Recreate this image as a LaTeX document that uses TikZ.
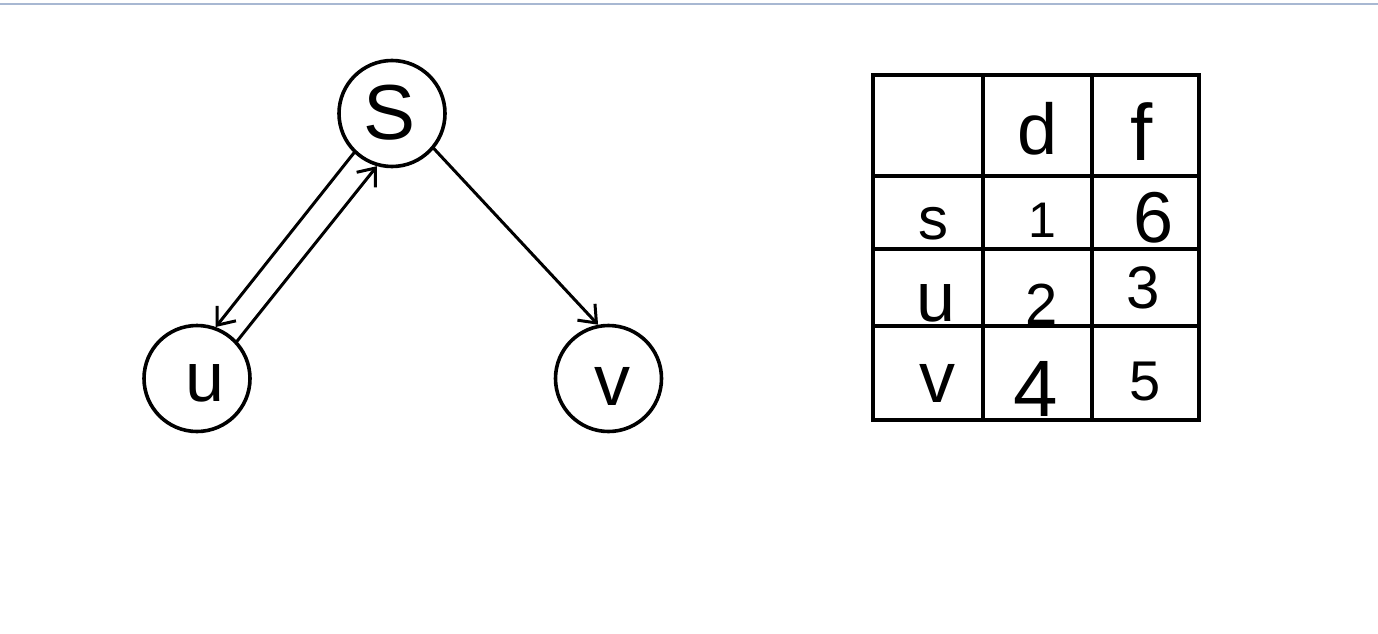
\documentclass[tikz,border=0pt]{standalone}
\usepackage{fontspec}
\setmainfont{Liberation Sans}
\usetikzlibrary{arrows.meta}
\definecolor{topline}{RGB}{168,184,210}
\begin{document}
\begin{tikzpicture}[x=1pt,y=-1pt,
  vertex/.style={circle, draw, line width=3.6pt, minimum size=106pt, inner sep=0pt},
  hw/.style={font=\fontsize{#1}{#1}\selectfont, inner sep=0pt},
  edge/.style={line width=3pt, line cap=round,
    -{Straight Barb[length=15pt,width=24pt,line width=3pt]}},
  grid/.style={line width=3.6pt}]
\useasboundingbox (0,0) rectangle (1378,634);
\fill[white] (0,0) rectangle (1378,634);
% thin rule along the top edge
\draw[line width=2.6pt, topline] (0,4) coordinate (rl) -- (1378,4) coordinate (rr);

% graph vertices
\node[vertex] (s) at (392,113.5) {};
\node[vertex] (u) at (197,378.5) {};
\node[vertex] (v) at (608.5,378.5) {};
\node[hw=78] (sl) at (390,113) {S};
\node[hw=70] (ul) at (205,383.5) {u};
\node[hw=72] (vl) at (612,386) {v};

% edges
\draw[edge] (s.226.7) -- (u.70.4);
\draw[edge] (u.43) -- (s.254);
\draw[edge] (s.320) -- (v.101.7);

% discovery / finish table
\draw[grid] (873,75) rectangle (1199,420);
\foreach \gx in {983,1092} \draw[grid] (\gx,75) -- (\gx,420);
\foreach \gy in {176,249,326} \draw[grid] (873,\gy) -- (1199,\gy);

\node[hw=72] (hd) at (1037.5,129) {d};
\node[hw=80] (hf) at (1142,132) {f};
\node[hw=60] (rs) at (933,224) {s};
\node[hw=50] (d1) at (1042,220) {1};
\node[hw=72] (f6) at (1154,218) {6};
\node[hw=70] (ru) at (936,303) {u};
\node[hw=58] (d2) at (1042,304) {2};
\node[hw=60] (f3) at (1143,288) {3};
\node[hw=72] (rv) at (937,383) {v};
\node[hw=80] (d4) at (1036,389) {4};
\node[hw=56] (f5) at (1145,382) {5};
\end{tikzpicture}
\end{document}
